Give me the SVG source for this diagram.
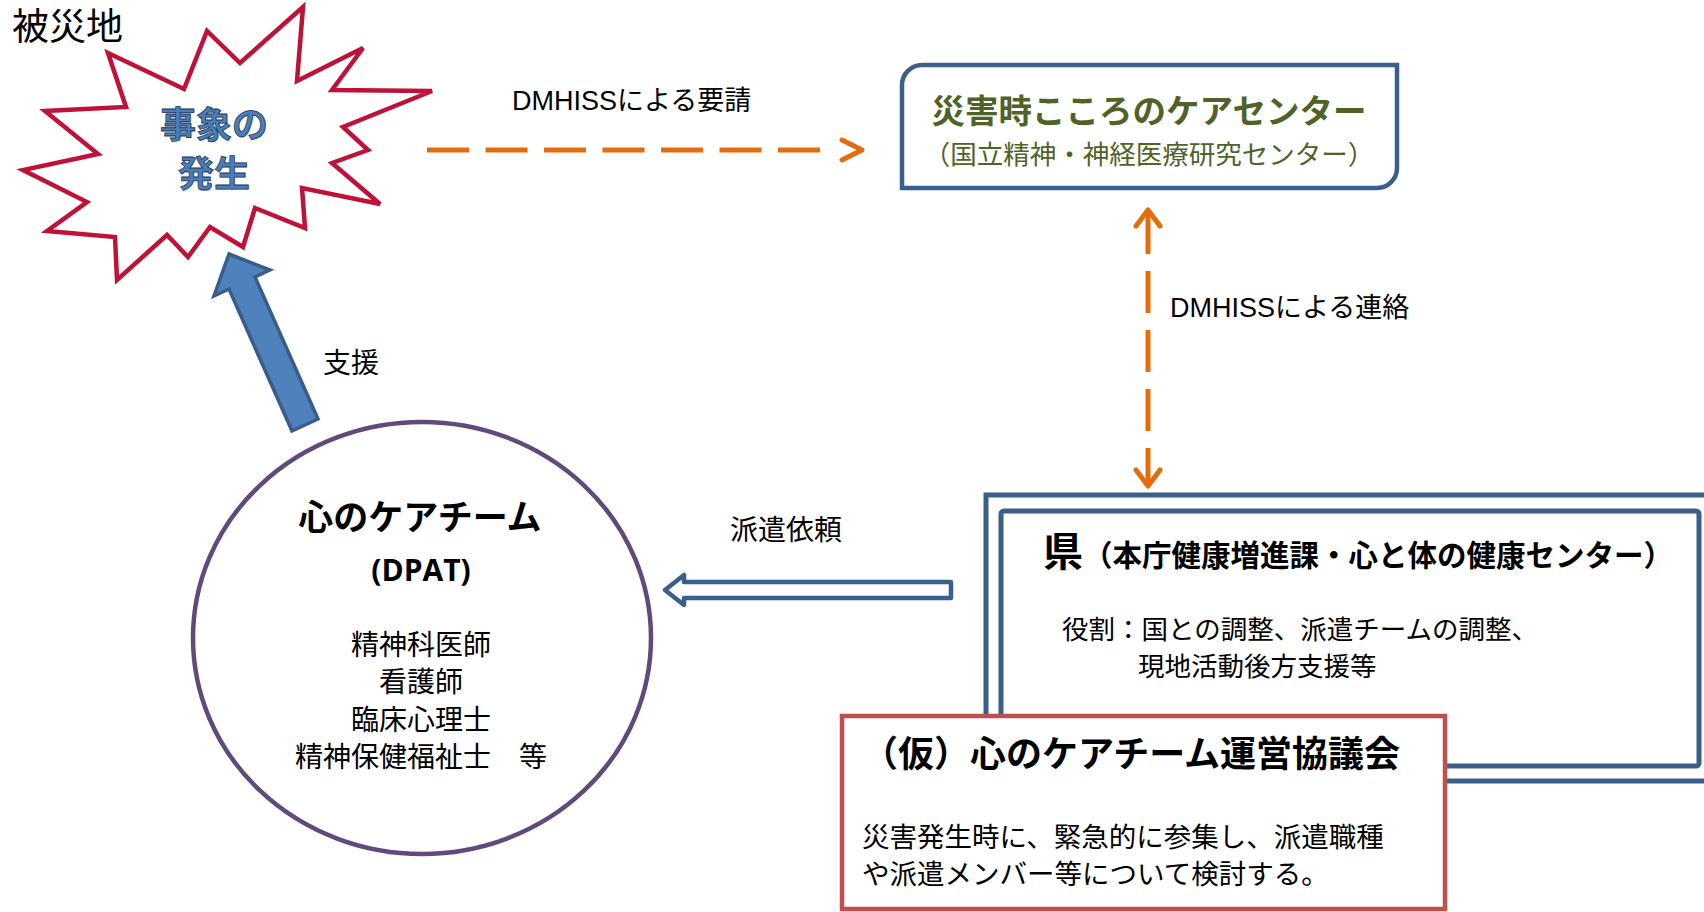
<svg xmlns="http://www.w3.org/2000/svg" width="1704" height="912" viewBox="0 0 1704 912">
<style>
  text { font-family: "Liberation Sans", "Noto Sans CJK JP", sans-serif; fill: #000; }
  .jp { font-family: "Noto Sans CJK JP", "Liberation Sans", sans-serif; }
  .b { font-weight: bold; }
  .mid { text-anchor: middle; }
  .orange { stroke: #E46C0A; stroke-width: 5; fill: none; }
  .chev { stroke: #E46C0A; stroke-width: 5; fill: none; stroke-linecap: round; stroke-linejoin: round; }
  .blueline { stroke: #3A5F8B; stroke-width: 5; fill: #fff; }
  .green { fill: #4F6228; }
  .wordart { fill: #4A7EBB; stroke: #1F3350; stroke-width: 0.8; }
</style>
<rect x="0" y="0" width="1704" height="912" fill="#fff"/>

<g id="label-hisaichi">
  <text class="jp" x="12" y="40" font-size="37">被災地</text>
</g>

<g id="node-event">
  <polygon points="303,7 297,81 363,48 332,90 432,91 343,127 368,150 332,163 380,204 302,188 305,228 255,208 243,247 210,227 188,257 167,235 117,280 115,237 47,231 87,202 23,170 98,154 45,111 126,107 108,53 184,89 207,31 240,63" fill="#fff" stroke="#BF1238" stroke-width="4.5" stroke-linejoin="miter"/>
  <text class="jp b mid wordart" x="214" y="138" font-size="36">事象の</text>
  <text class="jp b mid wordart" x="214" y="187" font-size="36">発生</text>
</g>

<g id="node-center">
  <path d="M922,65 H1397 V168 A20,20 0 0 1 1377,188 H902 V85 A20,20 0 0 1 922,65 Z" fill="#fff" stroke="#3A5F8B" stroke-width="4.5"/>
  <text class="jp b mid green" x="1149" y="123" font-size="33.5">災害時こころのケアセンター</text>
  <text class="jp mid green" x="1149" y="164" font-size="26.5">（国立精神・神経医療研究センター）</text>
</g>

<g id="node-pref">
  <rect x="986" y="495" width="740" height="286" class="blueline"/>
  <rect x="1001" y="511" width="698" height="255" rx="3" class="blueline"/>
  <text class="jp b" x="1043" y="566"><tspan font-size="40">県</tspan><tspan font-size="29.5">（本庁健康増進課・心と体の健康センター）</tspan></text>
  <text class="jp" x="1062" y="639" font-size="26.5">役割：国との調整、派遣チームの調整、</text>
  <text class="jp" x="1138" y="676" font-size="26.5">現地活動後方支援等</text>
</g>

<g id="node-council">
  <rect x="842" y="716" width="603" height="193" fill="#fff" stroke="#C0504D" stroke-width="4.5"/>
  <text class="jp b mid" x="1131" y="767" font-size="36">（仮）心のケアチーム運営協議会</text>
  <text class="jp" x="862" y="847" font-size="27.5">災害発生時に、緊急的に参集し、派遣職種</text>
  <text class="jp" x="862" y="884" font-size="27.5">や派遣メンバー等について検討する。</text>
</g>

<g id="node-team">
  <ellipse cx="422" cy="638" rx="229" ry="216" fill="#fff" stroke="#604A7B" stroke-width="4.5"/>
  <text class="jp b mid" x="420" y="530" font-size="35">心のケアチーム</text>
  <text class="b mid" x="421" y="581" font-size="30" style="font-family:'Open Sans','Liberation Sans',sans-serif">(DPAT)</text>
  <text class="jp mid" x="421" y="655" font-size="28">精神科医師</text>
  <text class="jp mid" x="421" y="692" font-size="28">看護師</text>
  <text class="jp mid" x="421" y="730" font-size="28">臨床心理士</text>
  <text class="jp mid" x="421" y="767" font-size="28">精神保健福祉士　等</text>
</g>

<g id="connectors">
  <g id="edge-request">
    <line x1="427" y1="150" x2="820" y2="150" class="orange" stroke-dasharray="42 16.5"/>
    <polyline points="842,140 862,150 842,160" class="chev"/>
    <text x="512" y="110" font-size="27">DMHISSによる要請</text>
  </g>
  <g id="edge-contact">
    <line x1="1148" y1="212" x2="1148" y2="485" class="orange" stroke-dasharray="42 17"/>
    <polyline points="1136,226 1148,210 1160,226" class="chev"/>
    <polyline points="1136,470 1148,486 1160,470" class="chev"/>
    <text x="1170" y="317" font-size="27">DMHISSによる連絡</text>
  </g>
  <g id="edge-dispatch">
    <polygon points="665,590 684,575 684,582 951,582 951,598 684,598 684,605" fill="#fff" stroke="#3A5F8B" stroke-width="4.5" stroke-linejoin="round"/>
    <text class="jp" x="730" y="540" font-size="28">派遣依頼</text>
  </g>
  <g id="edge-support">
    <polygon points="229,254 270,270 255,277 318,419 292,431 229,289 214,296" fill="#4F81BD" stroke="#385D8A" stroke-width="3.5" stroke-linejoin="miter"/>
    <text class="jp" x="323" y="373" font-size="28">支援</text>
  </g>
</g>
</svg>
